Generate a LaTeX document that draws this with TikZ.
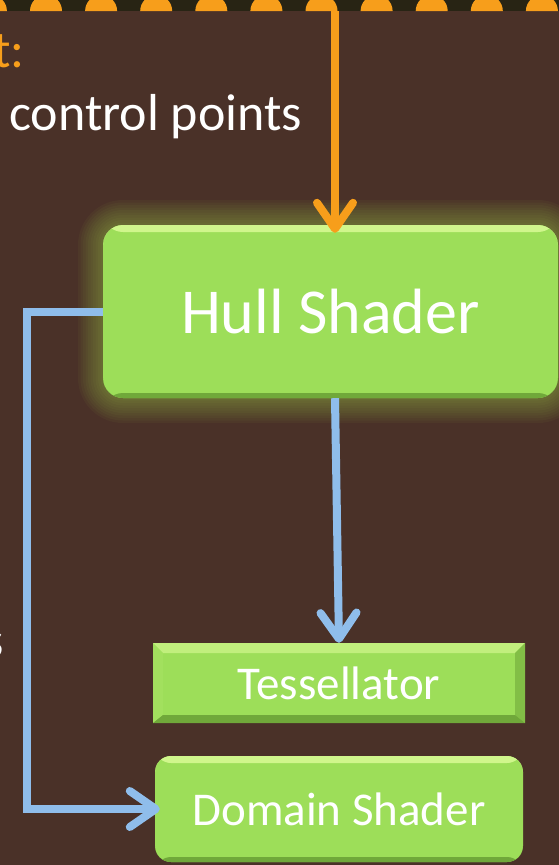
\documentclass[tikz,border=0pt]{standalone}
\usepackage{fontspec}
\setmainfont{Carlito}
\usetikzlibrary{arrows.meta}

\definecolor{bgbrown}{RGB}{74,49,40}
\definecolor{stripdark}{RGB}{40,36,20}
\definecolor{orng}{RGB}{247,158,27}
\definecolor{flowblue}{RGB}{143,189,235}
\definecolor{boxgreen}{RGB}{157,222,89}
\definecolor{hilite}{RGB}{208,246,140}
\definecolor{rimgreen}{RGB}{112,168,58}
\definecolor{glowgreen}{RGB}{170,220,80}

\tikzset{
  stage/.style={fill=boxgreen, text=white, inner sep=0pt, align=center,
    path picture={
      \fill[hilite] (path picture bounding box.north west) rectangle ([yshift=-7pt]path picture bounding box.north east);
      \fill[rimgreen] (path picture bounding box.south west) rectangle ([yshift=5pt]path picture bounding box.south east);
    }},
  bevelbox/.style={fill=boxgreen, text=white, inner sep=0pt,
    path picture={
      \coordinate (nw) at (path picture bounding box.north west);
      \coordinate (ne) at (path picture bounding box.north east);
      \coordinate (sw) at (path picture bounding box.south west);
      \coordinate (se) at (path picture bounding box.south east);
      \fill[hilite!70!boxgreen] (nw) -- (ne) -- ([shift={(-10pt,-10pt)}]ne) -- ([shift={(10pt,-10pt)}]nw) -- cycle;
      \fill[boxgreen!90!hilite] (nw) -- ([shift={(10pt,-10pt)}]nw) -- ([shift={(10pt,8pt)}]sw) -- (sw) -- cycle;
      \fill[rimgreen!60!boxgreen] (ne) -- ([shift={(-10pt,-10pt)}]ne) -- ([shift={(-10pt,8pt)}]se) -- (se) -- cycle;
      \fill[rimgreen] (sw) -- ([shift={(10pt,8pt)}]sw) -- ([shift={(-10pt,8pt)}]se) -- (se) -- cycle;
    }},
  ctrl/.style={line width=8pt, orng, -{Straight Barb[round,length=26pt,width=36pt]}},
  flow/.style={line width=8pt, flowblue, -{Straight Barb[round,length=26pt,width=36pt]}},
}

\begin{document}
\begin{tikzpicture}[x=1pt, y=-1pt]
  \useasboundingbox (0,0) rectangle (559,865);
  \fill[bgbrown] (0,0) rectangle (559,865);

  % top strip
  \fill[stripdark] (0,0) rectangle (559,11);
  \foreach \i in {-1,...,10}
    \fill[orng] ({46+55.1*\i-16},11) arc[start angle=180, end angle=0, radius=16pt] -- cycle;

  % text on the left
  \node[orng, anchor=base east, inner sep=0pt, font=\fontsize{52}{60}\selectfont] (lbl) at (25,67) {t:};
  \node[white, anchor=base west, inner sep=0pt, font=\fontsize{52}{60}\selectfont] (cp) at (9,130) {control points};
  \node[white, anchor=base east, inner sep=0pt, font=\fontsize{52}{60}\selectfont] (cut) at (4,657) {s};

  % glow round the hull shader
  \foreach \g [evaluate=\g as \r using 20+2.5*\g] in {1,...,10}
    \fill[glowgreen, opacity=0.045, rounded corners=\r pt]
      ({103-2.5*\g},{225-2.5*\g}) rectangle ({558+2.5*\g},{398+2.5*\g});

  % stages
  \node[stage, rounded corners=20pt, minimum width=455pt, minimum height=173pt,
        font=\fontsize{64}{70}\selectfont] (hull) at (330.5,311.5) {Hull Shader};
  \node[bevelbox, minimum width=372pt, minimum height=80pt,
        font=\fontsize{47}{50}\selectfont] (tess) at (339,683) {Tessellator};
  \node[stage, rounded corners=16pt, minimum width=368pt, minimum height=106pt,
        font=\fontsize{47}{50}\selectfont] (domain) at (339,809) {Domain Shader};

  % connectors
  \coordinate (feed) at (335,11);
  \coordinate (bend) at (27,0);
  \draw[ctrl, shorten >=-8pt] (feed) -- (feed |- hull.north);
  \draw[flow] ([xshift=4.5pt]hull.south) -- (tess.north);
  \draw[flow, shorten >=-5pt] (hull.west) -- (hull.west -| bend) |- (domain.west);
\end{tikzpicture}
\end{document}
